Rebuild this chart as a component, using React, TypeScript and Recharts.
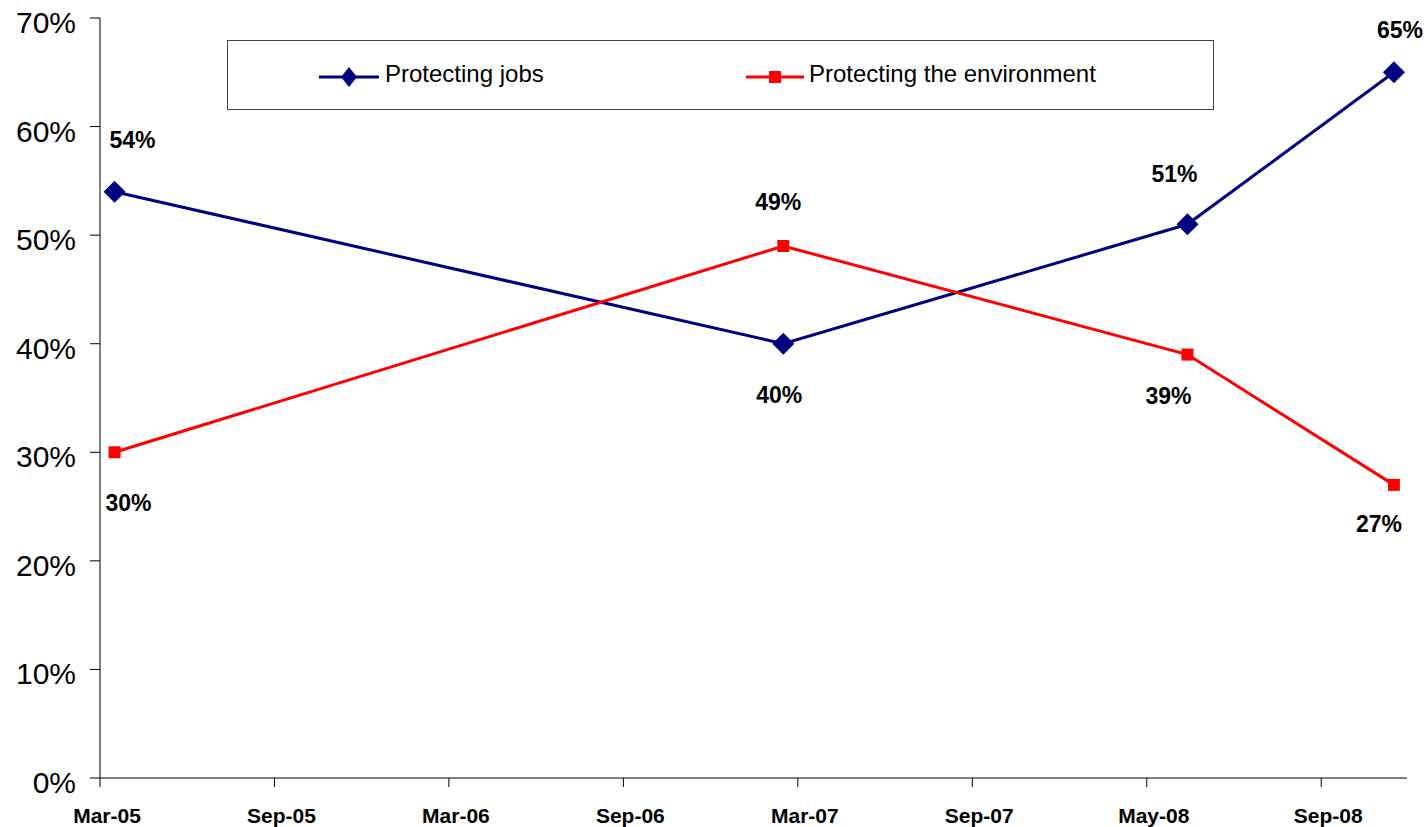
import React from "react";
import { LineChart, Line, XAxis, YAxis, Legend, LabelList } from "recharts";

// survey waves, as months after Mar-05
const surveyMonths = [0.5, 23.5, 37.4, 44.5];
const protectingJobs = [54, 40, 51, 65];
const protectingEnvironment = [30, 49, 39, 27];

const xTickMonths = [0, 6, 12, 18, 24, 30, 36, 42];
const xTickLabels = ["Mar-05", "Sep-05", "Mar-06", "Sep-06", "Mar-07", "Sep-07", "May-08", "Sep-08"];
const yTicks = [0, 10, 20, 30, 40, 50, 60, 70];

const data = surveyMonths.map((m, i) => ({
  month: m,
  jobs: protectingJobs[i],
  environment: protectingEnvironment[i],
}));

const FONT = "'Liberation Sans', Arial, Helvetica, sans-serif";
const NAVY = "#000080";
const RED = "#FF0000";

// where each value label sits relative to its point (label centre)
const jobsLabelNudge = [[18, -52], [-4, 51], [-13, -50], [6, -42]];
const envLabelNudge = [[14, 51], [-5, -44], [-19, 41], [-15, 39]];

const Diamond = ({ cx, cy, size = 11 }: any) => (
  <polygon
    points={`${cx},${cy - size} ${cx + size},${cy} ${cx},${cy + size} ${cx - size},${cy}`}
    fill={NAVY}
  />
);

const Square = ({ cx, cy, size = 6 }: any) => (
  <rect x={cx - size} y={cy - size} width={size * 2} height={size * 2} fill={RED} />
);

const makeLabel = (nudge: number[][]) => (props: any) => {
  const { x, y, value, index } = props;
  const [dx, dy] = nudge[index] || [0, -40];
  return (
    <text
      x={x + dx}
      y={y + dy + 8}
      textAnchor="middle"
      fontFamily={FONT}
      fontSize={23}
      fontWeight="bold"
      fill="#000"
    >
      {`${value}%`}
    </text>
  );
};

const YTick = ({ x, y, payload }: any) => (
  <text x={x} y={y} dy={15} textAnchor="end" fontFamily={FONT} fontSize={30} fill="#000">
    {`${payload.value}%`}
  </text>
);

const XTick = ({ x, y, payload }: any) => {
  const i = xTickMonths.indexOf(payload.value);
  return (
    <text x={x + 7} y={y} dy={34} textAnchor="middle" fontFamily={FONT} fontSize={21} fontWeight="bold" fill="#000">
      {xTickLabels[i]}
    </text>
  );
};

const LegendBox = () => (
  <div
    style={{
      width: 987,
      height: 70,
      boxSizing: "border-box",
      border: "1px solid #444",
      background: "#fff",
      position: "relative",
      fontFamily: FONT,
      fontSize: 24,
      color: "#000",
    }}
  >
    <svg width={70} height={30} style={{ position: "absolute", left: 90, top: 21 }}>
      <line x1={1} y1={15} x2={61} y2={15} stroke={NAVY} strokeWidth={3} />
      <polygon points="31,5 39,15 31,25 23,15" fill={NAVY} />
    </svg>
    <span style={{ position: "absolute", left: 157, top: 20, lineHeight: "26px" }}>Protecting jobs</span>
    <svg width={70} height={30} style={{ position: "absolute", left: 517, top: 21 }}>
      <line x1={1} y1={15} x2={59} y2={15} stroke={RED} strokeWidth={3} />
      <rect x={24} y={9} width={12} height={12} fill={RED} />
    </svg>
    <span style={{ position: "absolute", left: 581, top: 20, lineHeight: "26px" }}>
      Protecting the environment
    </span>
  </div>
);

export default function App() {
  return (
    <div style={{ position: "absolute", left: 0, top: 0, width: 1427, height: 827, background: "#fff" }}>
      <LineChart width={1427} height={827} data={data} margin={{ top: 18, right: 20, bottom: 0, left: 0 }}>
        <XAxis
          type="number"
          dataKey="month"
          domain={[0, 44.95]}
          ticks={xTickMonths}
          tick={<XTick />}
          tickSize={9}
          tickMargin={2}
          height={49}
          stroke="#000"
          interval={0}
          allowDataOverflow
        />
        <YAxis
          type="number"
          domain={[0, 70]}
          ticks={yTicks}
          tick={<YTick />}
          tickSize={10}
          tickMargin={14}
          width={100}
          stroke="#000"
          interval={0}
        />
        <Legend
          layout="horizontal"
          verticalAlign="middle"
          align="center"
          content={<LegendBox />}
          wrapperStyle={{ left: 227, top: 40, width: 987, height: 70 }}
        />
        <Line
          type="linear"
          dataKey="jobs"
          name="Protecting jobs"
          stroke={NAVY}
          strokeWidth={3}
          dot={(p: any) => <Diamond key={`j${p.index}`} cx={p.cx} cy={p.cy} />}
          activeDot={false}
          isAnimationActive={false}
        >
          <LabelList dataKey="jobs" content={makeLabel(jobsLabelNudge)} />
        </Line>
        <Line
          type="linear"
          dataKey="environment"
          name="Protecting the environment"
          stroke={RED}
          strokeWidth={3}
          dot={(p: any) => <Square key={`e${p.index}`} cx={p.cx} cy={p.cy} />}
          activeDot={false}
          isAnimationActive={false}
        >
          <LabelList dataKey="environment" content={makeLabel(envLabelNudge)} />
        </Line>
      </LineChart>
    </div>
  );
}
